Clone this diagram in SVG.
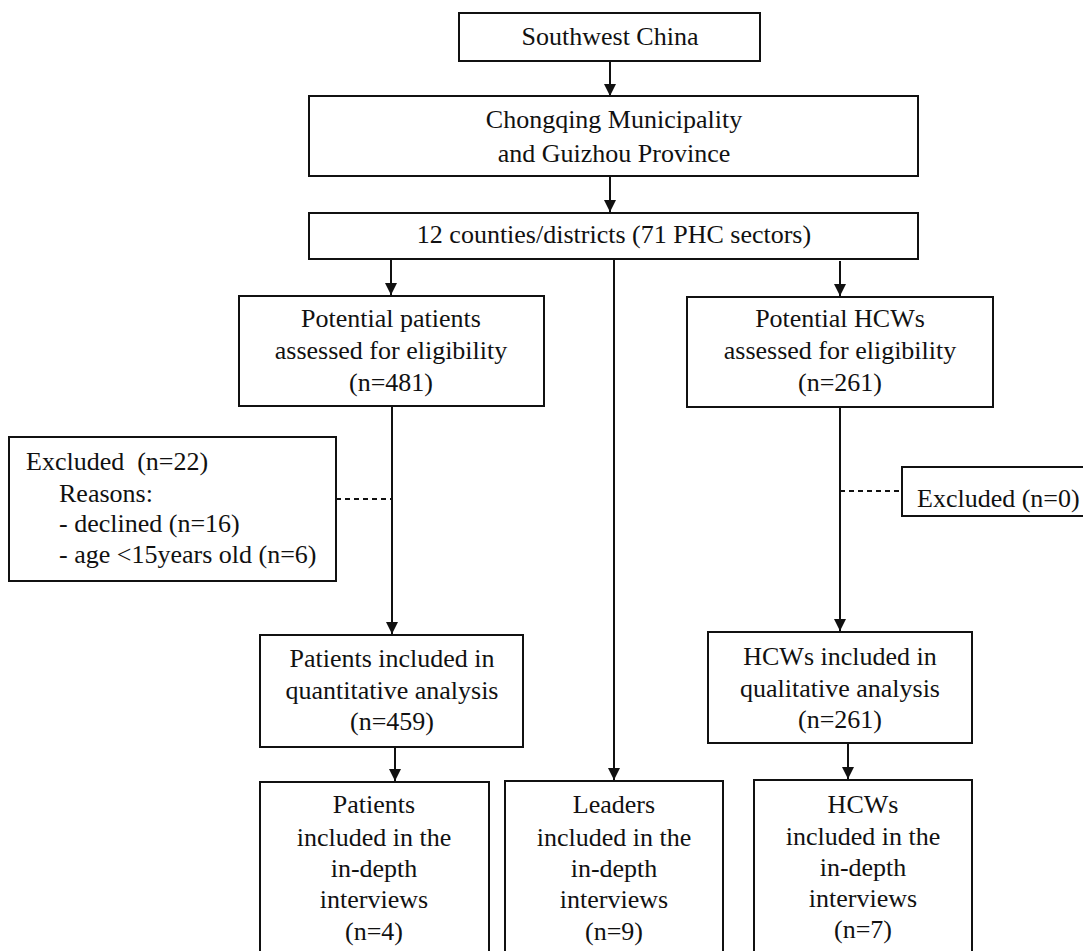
<svg xmlns="http://www.w3.org/2000/svg" width="1083" height="951" viewBox="0 0 1083 951">
  <defs>
    <marker id="arrow" viewBox="0 0 12 12" refX="12" refY="6" markerWidth="12" markerHeight="12" markerUnits="userSpaceOnUse" orient="auto">
      <path d="M0,0 L12,6 L0,12 Z" fill="#111"/>
    </marker>
  </defs>
  <style>
    .box { fill: #fff; stroke: #111; stroke-width: 2; }
    .t { font-family: "Liberation Serif", "Times New Roman", serif; font-size: 26px; fill: #111; }
    .c { text-anchor: middle; }
    .pre { white-space: pre; }
    .ln { fill: none; stroke: #111; stroke-width: 2; }
    .arr { marker-end: url(#arrow); }
    .dash { stroke-dasharray: 5 4; }
  </style>
  <rect width="1083" height="951" fill="#fff"/>

  <g id="connectors">
    <line class="ln arr" x1="610" y1="61" x2="610" y2="96"/>
    <line class="ln arr" x1="610" y1="176" x2="610" y2="212"/>
    <line class="ln arr" x1="391" y1="259" x2="391" y2="295"/>
    <line class="ln arr" x1="614" y1="259" x2="614" y2="780"/>
    <line class="ln arr" x1="840" y1="261" x2="840" y2="296"/>
    <line class="ln arr" x1="392" y1="406" x2="392" y2="634"/>
    <line class="ln arr" x1="840" y1="407" x2="840" y2="631"/>
    <line class="ln arr" x1="395" y1="747" x2="395" y2="781"/>
    <line class="ln arr" x1="848" y1="743" x2="848" y2="779"/>
    <line class="ln dash" x1="336" y1="499" x2="392" y2="499"/>
    <line class="ln dash" x1="840" y1="491" x2="902" y2="491"/>
  </g>

  <g id="southwest">
    <rect class="box" x="459" y="13" width="301" height="48"/>
    <text class="t c" x="610" y="45">Southwest China</text>
  </g>

  <g id="chongqing">
    <rect class="box" x="309" y="96" width="609" height="80"/>
    <text class="t c" x="614" y="128">Chongqing Municipality</text>
    <text class="t c" x="614" y="162">and Guizhou Province</text>
  </g>

  <g id="counties">
    <rect class="box" x="309" y="213" width="609" height="46"/>
    <text class="t c" x="614" y="243">12 counties/districts (71 PHC sectors)</text>
  </g>

  <g id="potential-patients">
    <rect class="box" x="239" y="296" width="305" height="110"/>
    <text class="t c" x="391" y="327">Potential patients</text>
    <text class="t c" x="391" y="359">assessed for eligibility</text>
    <text class="t c" x="391" y="391">(n=481)</text>
  </g>

  <g id="potential-hcws">
    <rect class="box" x="687" y="297" width="306" height="110"/>
    <text class="t c" x="840" y="327">Potential HCWs</text>
    <text class="t c" x="840" y="359">assessed for eligibility</text>
    <text class="t c" x="840" y="391">(n=261)</text>
  </g>

  <g id="excluded-patients">
    <rect class="box" x="9" y="437" width="327" height="144"/>
    <text class="t pre" x="26" y="470">Excluded  (n=22)</text>
    <text class="t" x="59" y="502">Reasons:</text>
    <text class="t" x="59" y="532">- declined (n=16)</text>
    <text class="t" x="59" y="563">- age &lt;15years old (n=6)</text>
  </g>

  <g id="excluded-hcws">
    <rect class="box" x="902" y="467" width="190" height="49"/>
    <text class="t" x="917" y="507">Excluded (n=0)</text>
  </g>

  <g id="patients-quant">
    <rect class="box" x="260" y="635" width="263" height="112"/>
    <text class="t c" x="392" y="667">Patients included in</text>
    <text class="t c" x="392" y="699">quantitative analysis</text>
    <text class="t c" x="392" y="730">(n=459)</text>
  </g>

  <g id="hcws-qual">
    <rect class="box" x="708" y="632" width="264" height="111"/>
    <text class="t c" x="840" y="665">HCWs included in</text>
    <text class="t c" x="840" y="697">qualitative analysis</text>
    <text class="t c" x="840" y="728">(n=261)</text>
  </g>

  <g id="patients-interviews">
    <rect class="box" x="260" y="782" width="229" height="190"/>
    <text class="t c" x="374" y="813">Patients</text>
    <text class="t c" x="374" y="846">included in the</text>
    <text class="t c" x="374" y="877">in-depth</text>
    <text class="t c" x="374" y="908">interviews</text>
    <text class="t c" x="374" y="940">(n=4)</text>
  </g>

  <g id="leaders-interviews">
    <rect class="box" x="505" y="781" width="218" height="190"/>
    <text class="t c" x="614" y="813">Leaders</text>
    <text class="t c" x="614" y="846">included in the</text>
    <text class="t c" x="614" y="877">in-depth</text>
    <text class="t c" x="614" y="908">interviews</text>
    <text class="t c" x="614" y="940">(n=9)</text>
  </g>

  <g id="hcws-interviews">
    <rect class="box" x="754" y="780" width="218" height="190"/>
    <text class="t c" x="863" y="813">HCWs</text>
    <text class="t c" x="863" y="845">included in the</text>
    <text class="t c" x="863" y="876">in-depth</text>
    <text class="t c" x="863" y="907">interviews</text>
    <text class="t c" x="863" y="938">(n=7)</text>
  </g>
</svg>
